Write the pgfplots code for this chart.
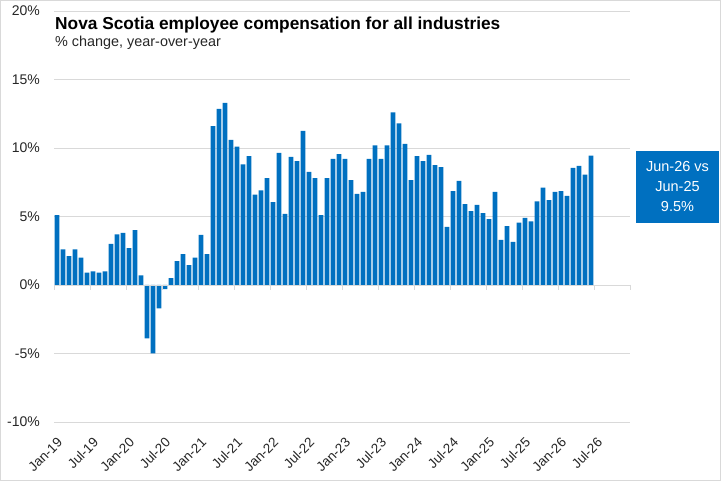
\documentclass[border=0pt]{standalone}
\usepackage{fontspec}
\setmainfont{Liberation Sans}
\usepackage{pgfplots}
\usepackage{pgfplotstable}
\pgfplotsset{compat=1.18}
\definecolor{barblue}{HTML}{0070C0}
\definecolor{gridgray}{HTML}{D9D9D9}
\definecolor{labgray}{HTML}{262626}
\pgfplotstableread{
idx val
0 5.1
1 2.6
2 2.1
3 2.6
4 2.0
5 0.9
6 1.0
7 0.9
8 1.0
9 3.0
10 3.7
11 3.8
12 2.7
13 4.0
14 0.7
15 -3.9
16 -5.0
17 -1.7
18 -0.3
19 0.5
20 1.75
21 2.25
22 1.45
23 2.0
24 3.65
25 2.25
26 11.6
27 12.85
28 13.3
29 10.6
30 10.1
31 8.8
32 9.4
33 6.6
34 6.9
35 7.8
36 6.05
37 9.65
38 5.2
39 9.35
40 9.05
41 11.25
42 8.25
43 7.8
44 5.1
45 7.8
46 9.2
47 9.55
48 9.2
49 7.65
50 6.65
51 6.8
52 9.2
53 10.2
54 9.2
55 10.2
56 12.6
57 11.8
58 10.3
59 7.65
60 9.4
61 9.05
62 9.5
63 8.75
64 8.6
65 4.25
66 6.85
67 7.6
68 5.9
69 5.4
70 5.85
71 5.25
72 4.8
73 6.8
74 3.3
75 4.3
76 3.15
77 4.55
78 4.9
79 4.65
80 6.1
81 7.1
82 6.2
83 6.8
84 6.85
85 6.5
86 8.55
87 8.7
88 8.05
89 9.45
}\datatable
\begin{document}
\begin{tikzpicture}
\begin{axis}[
  scale only axis,
  width=576pt, height=411pt,
  xmin=-0.5, xmax=95.5, ymin=-10, ymax=20,
  clip=false,
  axis line style={draw=none},
  major tick length=0pt,
  ytick={-10,-5,0,5,10,15,20},
  yticklabels={-10\%,-5\%,0\%,5\%,10\%,15\%,20\%},
  ymajorgrids,
  grid style={gridgray, line width=0.9pt},
  yticklabel style={font=\fontsize{14}{16}\selectfont, text=labgray, inner sep=0pt, xshift=-14pt},
  xtick={0,6,...,90},
  xticklabels={Jan-19,Jul-19,Jan-20,Jul-20,Jan-21,Jul-21,Jan-22,Jul-22,Jan-23,Jul-23,Jan-24,Jul-24,Jan-25,Jul-25,Jan-26,Jul-26},
  xticklabel style={font=\fontsize{13.5}{16}\selectfont, text=labgray, inner sep=0pt, yshift=-18pt, xshift=3pt, rotate=45, anchor=east},
]
% outer frame of the chart
\draw[gridgray, line width=1pt] ([shift={(-53.5pt,-58.5pt)}]axis description cs:0,0) rectangle ([shift={(90.5pt,10.5pt)}]axis description cs:1,1);
\addplot[ybar, bar width=0.78, fill=barblue, draw=none] table[x=idx, y=val] {\datatable};
% horizontal axis line at zero with tick marks between categories
\draw[gridgray, line width=0.9pt] (axis cs:-0.5,0) -- (axis cs:95.5,0);
\pgfplotsinvokeforeach{-0.5,5.5,...,95.5}{
  \draw[gridgray, line width=0.9pt] (axis cs:#1,0) -- ++(0pt,-5pt);
}
% title and subtitle
\node[anchor=base west, inner sep=0pt, font=\bfseries\fontsize{17.3}{20}\selectfont] at ([shift={(1pt,-18.3pt)}]axis description cs:0,1) {Nova Scotia employee compensation for all industries};
\node[anchor=base west, inner sep=0pt, font=\fontsize{14.4}{17}\selectfont, text=labgray] at ([shift={(1pt,-36pt)}]axis description cs:0,1) {\% change, year-over-year};
% callout box
\fill[barblue] ([shift={(6pt,199.3pt)}]axis description cs:1,0) rectangle ([shift={(89pt,271.3pt)}]axis description cs:1,0);
\node[anchor=base, inner sep=0pt, text=white, font=\fontsize{14.5}{17}\selectfont] at ([shift={(47.5pt,250.3pt)}]axis description cs:1,0) {Jun-26 vs};
\node[anchor=base, inner sep=0pt, text=white, font=\fontsize{14.5}{17}\selectfont] at ([shift={(47.5pt,230pt)}]axis description cs:1,0) {Jun-25};
\node[anchor=base, inner sep=0pt, text=white, font=\fontsize{14.5}{17}\selectfont] at ([shift={(47.5pt,210.3pt)}]axis description cs:1,0) {9.5\%};
\end{axis}
\end{tikzpicture}
\end{document}
